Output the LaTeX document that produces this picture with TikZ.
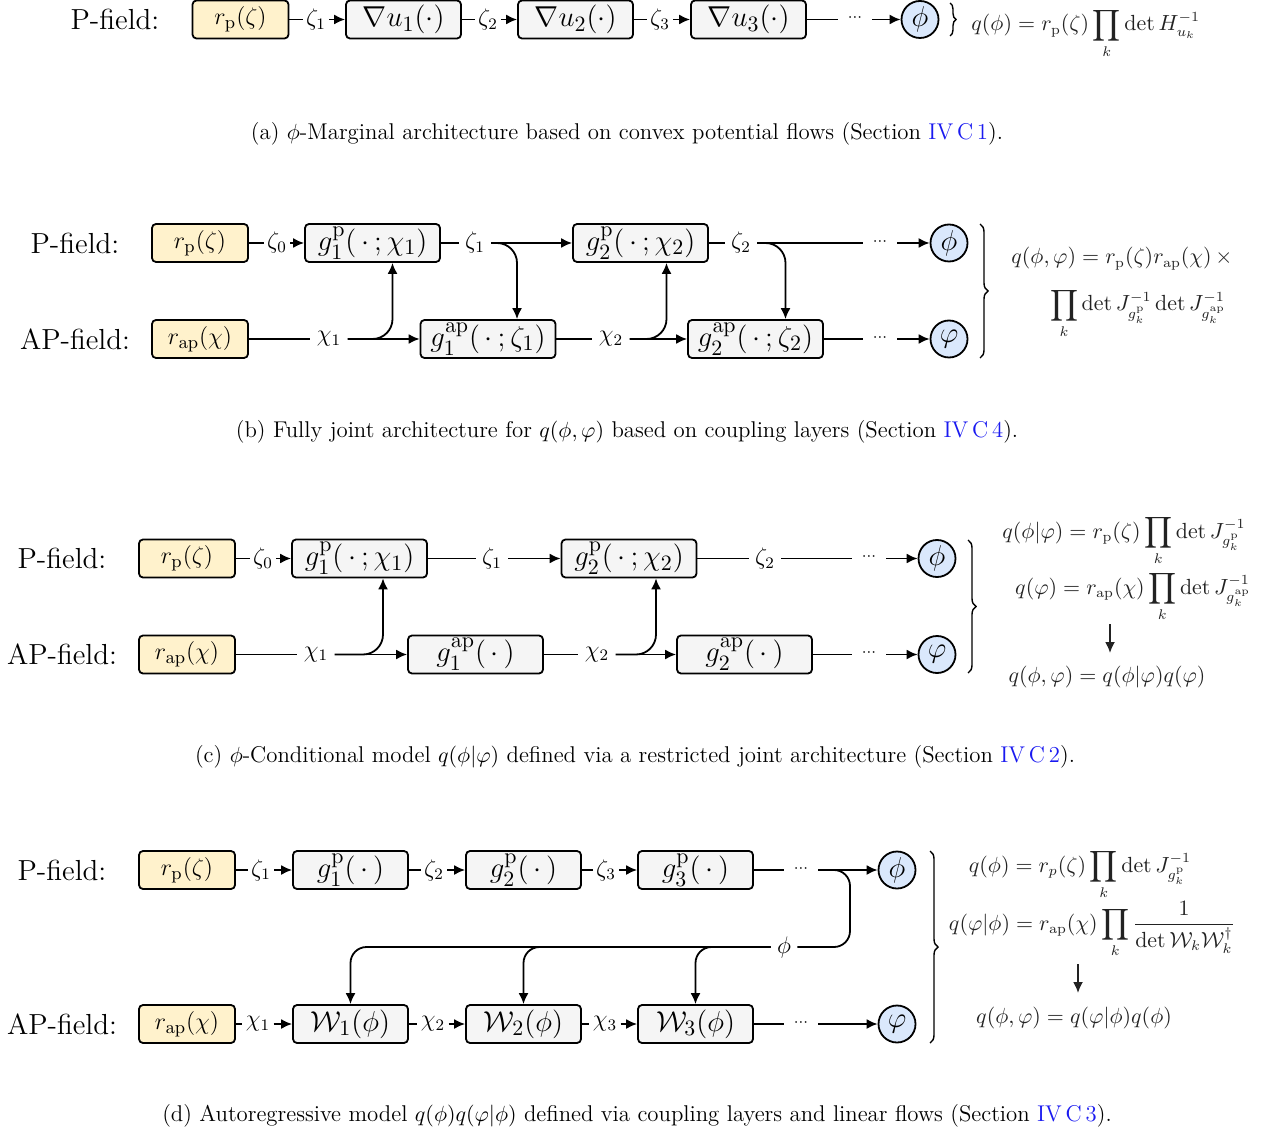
\documentclass[tikz,border=0pt]{standalone}
\usepackage{amsmath}
\usetikzlibrary{arrows.meta,decorations.pathreplacing,calc}
\definecolor{yel}{HTML}{FFF2CC}
\definecolor{blu}{HTML}{DAE8FC}
\definecolor{gry}{HTML}{F5F5F5}
\definecolor{fmlc}{HTML}{222222}
\definecolor{lnk}{HTML}{1A1AF0}
\newcommand{\tdots}{\ensuremath{{\cdot}{\cdot}{\cdot}}}
\begin{document}
\begin{tikzpicture}[x=0.5pt,y=-0.5pt,
 fieldlab/.style={font=\fontsize{14.5}{16}\selectfont, inner sep=0pt},
 box/.style={draw, rounded corners=2pt, line width=0.9pt, minimum height=19pt, inner sep=0pt},
 prior/.style={box, fill=yel, minimum width=48pt, font=\fontsize{12.5}{15}\selectfont},
 layerS/.style={box, fill=gry, minimum width=57.5pt, font=\fontsize{15}{17}\selectfont},
 layerL/.style={box, fill=gry, minimum width=67.5pt, font=\fontsize{15}{17}\selectfont},
 outc/.style={circle, draw, fill=blu, minimum size=18.5pt, inner sep=0pt, line width=0.9pt, font=\fontsize{13.5}{15}\selectfont},
 elab/.style={font=\fontsize{11.5}{12}\selectfont, inner sep=1.5pt},
 elabw/.style={elab, inner sep=3pt},
 dotsn/.style={font=\fontsize{8.5}{9}\selectfont, inner sep=5pt},
 ln/.style={line width=0.9pt},
 arr/.style={ln, -{Latex[length=5.5pt,width=5pt]}},
 brc/.style={decorate, decoration={brace, amplitude=4pt}, line width=0.7pt},
 fml/.style={font=\fontsize{10.5}{12}\selectfont, text=fmlc, inner sep=0pt},
 captxt/.style={font=\fontsize{11.4}{13}\selectfont, inner sep=0pt},
]
\useasboundingbox (0,0) rectangle (1262,1133);

% ---------------- (a)
\node[fieldlab] (pfa) at (115,19) {P-field:};
\node[prior] (rpa) at (240.5,19.5) {$r_\mathrm{p}(\zeta)$};
\node[elab] (za1) at (316,19.5) {$\zeta_1$};
\node[layerS] (ua1) at (403.5,19.5) {$\nabla u_1(\cdot)$};
\node[elab] (za2) at (488,19.5) {$\zeta_2$};
\node[layerS] (ua2) at (575.5,19.5) {$\nabla u_2(\cdot)$};
\node[elab] (za3) at (660,19.5) {$\zeta_3$};
\node[layerS] (ua3) at (748.5,19.5) {$\nabla u_3(\cdot)$};
\node[dotsn] (da) at (855,18) {\tdots};
\node[outc] (phia) at (920,19.5) {$\phi$};
\draw[ln] (rpa) -- (za1); \draw[arr] (za1) -- (ua1);
\draw[ln] (ua1) -- (za2); \draw[arr] (za2) -- (ua2);
\draw[ln] (ua2) -- (za3); \draw[arr] (za3) -- (ua3);
\draw[ln] (ua3) -- (ua3 -| da.west); \draw[arr] (da.east |- phia) -- (phia);
\draw[brc, decoration={amplitude=3pt}] (950,3) -- (950,36);
\node[fml, anchor=base west] (fa) at (971,31) {$q(\phi) = r_\mathrm{p}(\zeta)\displaystyle\prod_k \det H^{-1}_{u_k}$};
\node[captxt] (capa) at (627,134) {(a) $\phi$-Marginal architecture based on convex potential flows (Section \textcolor{lnk}{IV\,C\,1}).};

% ---------------- (b)
\node[fieldlab] (pfb) at (75,243) {P-field:};
\node[fieldlab] (apfb) at (75,339) {AP-field:};
\node[prior] (rpb) at (200,243) {$r_\mathrm{p}(\zeta)$};
\node[prior] (rapb) at (200,339) {$r_\mathrm{ap}(\chi)$};
\node[elab] (zb0) at (277,243) {$\zeta_0$};
\node[layerL] (gpb1) at (372.5,243) {$g^\mathrm{p}_1(\,\cdot\,;\chi_1)$};
\node[elabw] (zb1) at (475,243) {$\zeta_1$};
\node[layerL] (gpb2) at (640.5,243) {$g^\mathrm{p}_2(\,\cdot\,;\chi_2)$};
\node[elabw] (zb2) at (741,243) {$\zeta_2$};
\node[dotsn] (db1) at (880,241.5) {\tdots};
\node[outc] (phib) at (949,243) {$\phi$};
\node[elabw] (xb1) at (329,339) {$\chi_1$};
\node[layerL] (gab1) at (488,339) {$g^\mathrm{ap}_1(\,\cdot\,;\zeta_1)$};
\node[elabw] (xb2) at (611,339) {$\chi_2$};
\node[layerL] (gab2) at (755.5,339) {$g^\mathrm{ap}_2(\,\cdot\,;\zeta_2)$};
\node[dotsn] (db2) at (880,337.5) {\tdots};
\node[outc] (vphib) at (949,339) {$\varphi$};
\draw[ln] (rpb) -- (zb0); \draw[arr] (zb0) -- (gpb1);
\draw[ln] (gpb1) -- (zb1); \draw[arr] (zb1) -- (gpb2);
\draw[arr, rounded corners=10pt] (zb1.east) -| ([xshift=14.5pt]gab1.north);
\draw[ln] (gpb2) -- (zb2); \draw[ln] (zb2) -- (zb2 -| db1.west); \draw[arr] (db1.east |- phib) -- (phib);
\draw[arr, rounded corners=10pt] (zb2.east) -| ([xshift=15pt]gab2.north);
\draw[ln] (rapb) -- (xb1); \draw[arr] (xb1) -- (gab1);
\draw[arr, rounded corners=10pt] (xb1.east) -| ([xshift=10pt]gpb1.south);
\draw[ln] (gab1) -- (xb2); \draw[arr] (xb2) -- (gab2);
\draw[arr, rounded corners=10pt] (xb2.east) -| ([xshift=13pt]gpb2.south);
\draw[ln] (gab2) -- (gab2 -| db2.west); \draw[arr] (db2.east |- vphib) -- (vphib);
\draw[brc] (980,224) -- (980,358);
\node[fml, anchor=base west] (fb1) at (1011,264) {$q(\phi,\varphi) = r_\mathrm{p}(\zeta) r_\mathrm{ap}(\chi)\,\times$};
\node[fml, anchor=base] (fb2) at (1138,311) {$\displaystyle\prod_k \det J^{-1}_{g^\mathrm{p}_k} \det J^{-1}_{g^\mathrm{ap}_k}$};
\node[captxt] (capb) at (627,432) {(b) Fully joint architecture for $q(\phi,\varphi)$ based on coupling layers (Section \textcolor{lnk}{IV\,C\,4}).};

% ---------------- (c)
\node[fieldlab] (pfc) at (62,558.5) {P-field:};
\node[fieldlab] (apfc) at (62,654.5) {AP-field:};
\node[prior] (rpc) at (187,558.5) {$r_\mathrm{p}(\zeta)$};
\node[prior] (rapc) at (187,654.5) {$r_\mathrm{ap}(\chi)$};
\node[elab] (zc0) at (263,558.5) {$\zeta_0$};
\node[layerL] (gpc1) at (359.5,558.5) {$g^\mathrm{p}_1(\,\cdot\,;\chi_1)$};
\node[elabw] (zc1) at (492,558.5) {$\zeta_1$};
\node[layerL] (gpc2) at (629,558.5) {$g^\mathrm{p}_2(\,\cdot\,;\chi_2)$};
\node[elabw] (zc2) at (765,558.5) {$\zeta_2$};
\node[dotsn] (dc1) at (869,557) {\tdots};
\node[outc] (phic) at (937,558.5) {$\phi$};
\node[elabw] (xc1) at (316,654.5) {$\chi_1$};
\node[layerL] (gac1) at (475.5,654.5) {$g^\mathrm{ap}_1(\,\cdot\,)$};
\node[elabw] (xc2) at (597,654.5) {$\chi_2$};
\node[layerL] (gac2) at (744.5,654.5) {$g^\mathrm{ap}_2(\,\cdot\,)$};
\node[dotsn] (dc2) at (869,653) {\tdots};
\node[outc] (vphic) at (937,654.5) {$\varphi$};
\draw[ln] (rpc) -- (zc0); \draw[arr] (zc0) -- (gpc1);
\draw[ln] (gpc1) -- (zc1); \draw[arr] (zc1) -- (gpc2);
\draw[ln] (gpc2) -- (zc2); \draw[ln] (zc2) -- (zc2 -| dc1.west); \draw[arr] (dc1.east |- phic) -- (phic);
\draw[ln] (rapc) -- (xc1); \draw[arr] (xc1) -- (gac1);
\draw[arr, rounded corners=10pt] (xc1.east) -| ([xshift=11.75pt]gpc1.south);
\draw[ln] (gac1) -- (xc2); \draw[arr] (xc2) -- (gac2);
\draw[arr, rounded corners=10pt] (xc2.east) -| ([xshift=13.5pt]gpc2.south);
\draw[ln] (gac2) -- (gac2 -| dc2.west); \draw[arr] (dc2.east |- vphic) -- (vphic);
\draw[brc] (968,540) -- (968,673);
\node[fml, anchor=base] (fc1) at (1124,538) {$q(\phi|\varphi) = r_\mathrm{p}(\zeta)\displaystyle\prod_k \det J^{-1}_{g^\mathrm{p}_k}$};
\node[fml, anchor=base] (fc2) at (1133,594) {$q(\varphi) = r_\mathrm{ap}(\chi)\displaystyle\prod_k \det J^{-1}_{g^\mathrm{ap}_k}$};
\node[fml, anchor=base] (fc3) at (1107,682) {$q(\phi,\varphi) = q(\phi|\varphi)q(\varphi)$};
\coordinate (ac1) at (1110,624);
\coordinate (ac2) at (1110,653);
\draw[arr, draw=fmlc] (ac1) -- (ac2);
\node[captxt] (capc) at (635,757) {(c) $\phi$-Conditional model $q(\phi|\varphi)$ defined via a restricted joint architecture (Section \textcolor{lnk}{IV\,C\,2}).};

% ---------------- (d)
\node[fieldlab] (pfd) at (62,870) {P-field:};
\node[fieldlab] (apfd) at (62,1024) {AP-field:};
\node[prior] (rpd) at (187,870) {$r_\mathrm{p}(\zeta)$};
\node[prior] (rapd) at (187,1024) {$r_\mathrm{ap}(\chi)$};
\node[elab] (zd1) at (261,870) {$\zeta_1$};
\node[layerS] (gpd1) at (350.5,870) {$g^\mathrm{p}_1(\,\cdot\,)$};
\node[elab] (zd2) at (434,870) {$\zeta_2$};
\node[layerS] (gpd2) at (523.5,870) {$g^\mathrm{p}_2(\,\cdot\,)$};
\node[elab] (zd3) at (606,870) {$\zeta_3$};
\node[layerS] (gpd3) at (695.5,870) {$g^\mathrm{p}_3(\,\cdot\,)$};
\node[dotsn] (dd1) at (801,868.5) {\tdots};
\node[outc] (phid) at (897,870) {$\phi$};
\node[elab] (xd1) at (258,1024) {$\chi_1$};
\node[layerS] (wd1) at (350.5,1024) {$\mathcal{W}_1(\phi)$};
\node[elab] (xd2) at (433,1024) {$\chi_2$};
\node[layerS] (wd2) at (523.5,1024) {$\mathcal{W}_2(\phi)$};
\node[elab] (xd3) at (605,1024) {$\chi_3$};
\node[layerS] (wd3) at (695.5,1024) {$\mathcal{W}_3(\phi)$};
\node[dotsn] (dd2) at (801,1022.5) {\tdots};
\node[outc] (vphid) at (897,1024) {$\varphi$};
\node[elabw, font=\fontsize{12.5}{14}\selectfont] (phil) at (784,947) {$\phi$};
\coordinate (fbk) at (850,947);
\draw[ln] (rpd) -- (zd1); \draw[arr] (zd1) -- (gpd1);
\draw[ln] (gpd1) -- (zd2); \draw[arr] (zd2) -- (gpd2);
\draw[ln] (gpd2) -- (zd3); \draw[arr] (zd3) -- (gpd3);
\draw[ln] (gpd3) -- (gpd3 -| dd1.west); \draw[arr] (dd1.east |- phid) -- (phid);
\draw[ln] (rapd) -- (xd1); \draw[arr] (xd1) -- (wd1);
\draw[ln] (wd1) -- (xd2); \draw[arr] (xd2) -- (wd2);
\draw[ln] (wd2) -- (xd3); \draw[arr] (xd3) -- (wd3);
\draw[ln] (wd3) -- (wd3 -| dd2.west); \draw[arr] (dd2.east |- vphid) -- (vphid);
\draw[ln, rounded corners=8pt] (dd1.east |- phid) -| (fbk) -- (phil);
\draw[arr, rounded corners=8pt] (phil) -| (wd1.north);
\draw[arr, rounded corners=8pt] (phil) -| (wd2.north);
\draw[arr, rounded corners=8pt] (phil) -| (wd3.north);
\draw[brc] (930,851) -- (930,1043);
\node[fml, anchor=base] (fd1) at (1080,872) {$q(\phi) = r_p(\zeta)\displaystyle\prod_k \det J^{-1}_{g^\mathrm{p}_k}$};
\node[fml, anchor=base] (fd2) at (1092,930) {$q(\varphi|\phi) = r_\mathrm{ap}(\chi)\displaystyle\prod_k \frac{1}{\det \mathcal{W}_k\mathcal{W}_k^\dagger}$};
\node[fml, anchor=base] (fd3) at (1074,1023) {$q(\phi,\varphi) = q(\varphi|\phi)q(\phi)$};
\coordinate (ad1) at (1078,964);
\coordinate (ad2) at (1078,993);
\draw[arr, draw=fmlc] (ad1) -- (ad2);
\node[captxt] (capd) at (637,1116) {(d) Autoregressive model $q(\phi)q(\varphi|\phi)$ defined via coupling layers and linear flows (Section \textcolor{lnk}{IV\,C\,3}).};
\end{tikzpicture}
\end{document}
